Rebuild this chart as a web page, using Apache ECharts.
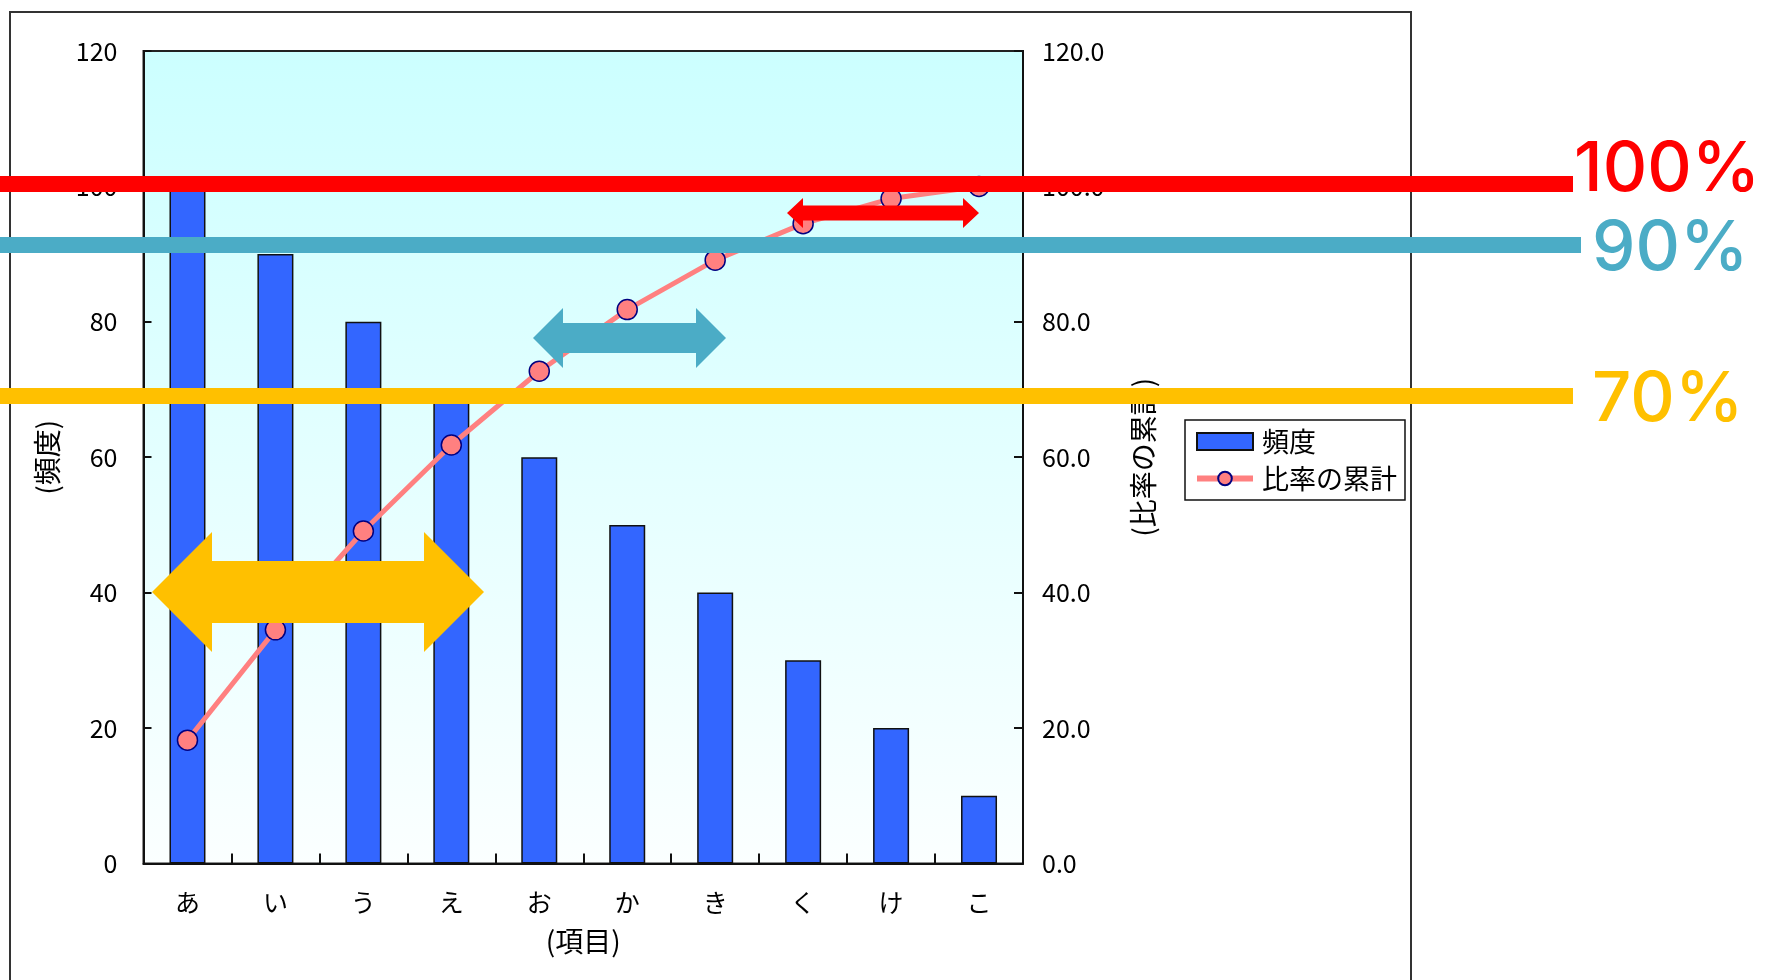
<!DOCTYPE html>
<html>
<head>
<meta charset="utf-8">
<script src="https://cdn.jsdelivr.net/npm/echarts@6/dist/echarts.min.js"></script>
<style>
  html, body { margin: 0; padding: 0; background: #fff; }
  #chart { width: 1772px; height: 980px; }
</style>
</head>
<body>
<div id="chart"></div>
<script>
// Pareto data: item frequencies and the running share of the total (%)
const categories = ['あ', 'い', 'う', 'え', 'お', 'か', 'き', 'く', 'け', 'こ'];
const frequency = [100, 90, 80, 70, 60, 50, 40, 30, 20, 10];
const cumulativeRatio = [18.2, 34.5, 49.1, 61.8, 72.7, 81.8, 89.1, 94.5, 98.2, 100.0];

// Axis ranges
const freqAxis = { min: 0, max: 120, interval: 20 };
const ratioAxis = { min: 0, max: 120, interval: 20 };

// Threshold call-outs drawn over the chart
const thresholdLabels = ['100%', '90%', '70%'];

const FONT = '"Noto Sans CJK JP", "DejaVu Sans", sans-serif';
const BIG_FONT = '500 69px Inter, "Noto Sans", sans-serif';

// Double-headed arrow outline from tip to tip
function doubleArrow(x1, x2, cy, head, headHalf, shaftHalf) {
  return [
    [x1, cy], [x1 + head, cy - headHalf], [x1 + head, cy - shaftHalf],
    [x2 - head, cy - shaftHalf], [x2 - head, cy - headHalf], [x2, cy],
    [x2 - head, cy + headHalf], [x2 - head, cy + shaftHalf],
    [x1 + head, cy + shaftHalf], [x1 + head, cy + headHalf]
  ];
}

const chart = echarts.init(document.getElementById('chart'), null, { renderer: 'canvas' });

const option = {
  animation: false,
  backgroundColor: '#ffffff',
  textStyle: { fontFamily: FONT },
  grid: {
    left: 143.5, top: 51, width: 879.5, height: 812.4,
    show: true,
    borderColor: '#222',
    borderWidth: 2,
    backgroundColor: {
      type: 'linear', x: 0, y: 0, x2: 0, y2: 1,
      colorStops: [
        { offset: 0, color: '#ccffff' },
        { offset: 1, color: '#fbffff' }
      ]
    },
    outerBoundsMode: 'none'
  },
  legend: {
    orient: 'vertical',
    left: 1185, top: 420,
    padding: [8, 8, 8, 9],
    itemGap: 10,
    itemWidth: 56, itemHeight: 17,
    backgroundColor: '#fff',
    borderColor: '#111',
    borderWidth: 1.5,
    borderRadius: 0,
    textStyle: { fontSize: 27, lineHeight: 25, color: '#000', fontFamily: FONT, padding: [0, 0, 0, 4] },
    data: [
      { name: '頻度', icon: 'rect' },
      { name: '比率の累計', lineStyle: { width: 6, color: '#ff8080' } }
    ]
  },
  xAxis: {
    type: 'category',
    data: categories,
    boundaryGap: true,
    name: '(項目)',
    nameLocation: 'middle',
    nameGap: 64,
    nameTextStyle: { fontSize: 28, color: '#000', fontFamily: FONT },
    axisLine: { show: true, lineStyle: { color: '#111', width: 2 } },
    axisTick: { show: true, inside: true, length: 10, alignWithLabel: false, lineStyle: { color: '#111', width: 2 } },
    axisLabel: { fontSize: 25, color: '#000', margin: 27, fontFamily: FONT },
    splitLine: { show: false }
  },
  yAxis: [
    {
      type: 'value',
      position: 'left',
      min: freqAxis.min, max: freqAxis.max, interval: freqAxis.interval,
      name: '(頻度)',
      nameLocation: 'middle',
      nameRotate: 90,
      nameGap: 82,
      nameTextStyle: { fontSize: 28, color: '#000', fontFamily: FONT },
      axisLine: { show: true, lineStyle: { color: '#111', width: 2 } },
      axisTick: { show: true, inside: true, length: 8, lineStyle: { color: '#111', width: 2 } },
      axisLabel: { fontSize: 25, color: '#000', margin: 26, fontFamily: FONT },
      splitLine: { show: false }
    },
    {
      type: 'value',
      position: 'right',
      min: ratioAxis.min, max: ratioAxis.max, interval: ratioAxis.interval,
      name: '(比率の累計)',
      nameLocation: 'middle',
      nameRotate: 90,
      nameGap: 106,
      nameTextStyle: { fontSize: 28, color: '#000', fontFamily: FONT },
      axisLine: { show: true, lineStyle: { color: '#111', width: 2 } },
      axisTick: { show: true, inside: true, length: 9, lineStyle: { color: '#111', width: 2 } },
      axisLabel: {
        fontSize: 25, color: '#000', margin: 19, fontFamily: FONT,
        formatter: v => v.toFixed(1)
      },
      splitLine: { show: false }
    }
  ],
  series: [
    {
      name: '頻度',
      type: 'bar',
      yAxisIndex: 0,
      data: frequency,
      barWidth: 36,
      itemStyle: { color: '#3366ff', borderColor: '#111', borderWidth: 1.5 },
      z: 2
    },
    {
      name: '比率の累計',
      type: 'line',
      yAxisIndex: 1,
      data: cumulativeRatio,
      symbol: 'circle',
      symbolSize: 20,
      lineStyle: { color: '#ff8080', width: 5 },
      itemStyle: { color: '#ff8080', borderColor: '#000080', borderWidth: 1.5 },
      z: 3
    }
  ],
  graphic: [
    // outer chart frame
    {
      type: 'rect', z: -5, silent: true,
      shape: { x: 10, y: 12, width: 1401, height: 1000 },
      style: { fill: null, stroke: '#333', lineWidth: 2 }
    },
    // threshold bands
    { type: 'rect', z: 100, silent: true, shape: { x: 0, y: 176, width: 1573, height: 16 }, style: { fill: '#ff0000' } },
    { type: 'rect', z: 100, silent: true, shape: { x: 0, y: 237, width: 1581, height: 16 }, style: { fill: '#4bacc6' } },
    { type: 'rect', z: 100, silent: true, shape: { x: 0, y: 388, width: 1573, height: 16 }, style: { fill: '#ffc000' } },
    // threshold labels
    {
      type: 'text', z: 100, silent: true,
      style: { x: 1574, y: 170, text: thresholdLabels[0], fill: '#ff0000', font: BIG_FONT, verticalAlign: 'middle' }
    },
    {
      type: 'text', z: 100, silent: true,
      style: { x: 1592, y: 249, text: thresholdLabels[1], fill: '#4bacc6', font: BIG_FONT, verticalAlign: 'middle' }
    },
    {
      type: 'text', z: 100, silent: true,
      style: { x: 1592, y: 400, text: thresholdLabels[2], fill: '#ffc000', font: BIG_FONT, verticalAlign: 'middle' }
    },
    // span arrows
    { type: 'polygon', z: 100, silent: true, shape: { points: doubleArrow(152, 484, 592, 60, 60, 31) }, style: { fill: '#ffc000' } },
    { type: 'polygon', z: 100, silent: true, shape: { points: doubleArrow(533, 726, 338, 30, 30, 15) }, style: { fill: '#4bacc6' } },
    { type: 'polygon', z: 100, silent: true, shape: { points: doubleArrow(787, 979, 213, 16, 15, 7.5) }, style: { fill: '#ff0000' } }
  ]
};

chart.setOption(option);
</script>
</body>
</html>
